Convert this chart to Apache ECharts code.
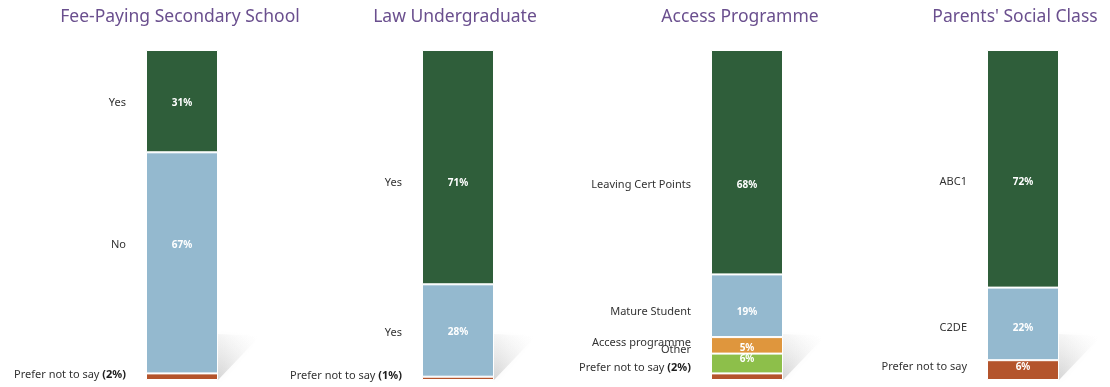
<!DOCTYPE html>
<html>
<head>
<meta charset="utf-8">
<title>Student background</title>
<script src="https://cdn.jsdelivr.net/npm/echarts@6/dist/echarts.min.js"></script>
<style>
  html, body { margin: 0; padding: 0; background: #ffffff; }
  #chart { width: 1110px; height: 387px; }
</style>
</head>
<body>
<div id="chart"></div>
<script>
// Panel titles
const panelTitles = ['Fee-Paying Secondary School', 'Law Undergraduate', 'Access Programme', "Parents' Social Class"];

// Segment names and shares (%), listed bottom to top
const feeNames = ['Prefer not to say', 'No', 'Yes'];
const feeValues = [2, 67, 31];

const lawNames = ['Prefer not to say', 'Yes', 'Yes'];
const lawValues = [1, 28, 71];

const accessNames = ['Prefer not to say', 'Other', 'Access programme', 'Mature Student', 'Leaving Cert Points'];
const accessValues = [2, 6, 5, 19, 68];

const classNames = ['Prefer not to say', 'C2DE', 'ABC1'];
const classValues = [6, 22, 72];

// ---- styling ----
const C_GREEN = '#2f5e3a';
const C_BLUE = '#94b9cf';
const C_BROWN = '#b4542c';
const C_ORANGE = '#df963d';
const C_LIME = '#8dbf4a';

const panels = [
  { names: feeNames, values: feeValues, colors: [C_BROWN, C_BLUE, C_GREEN],
    nameDy: [-2, -18, 2], valueDy: [0, -18, 2] },
  { names: lawNames, values: lawValues, colors: [C_BROWN, C_BLUE, C_GREEN],
    nameDy: [-2, 2, 16], valueDy: [0, 2, 16] },
  { names: accessNames, values: accessValues, colors: [C_BROWN, C_LIME, C_ORANGE, C_BLUE, C_GREEN],
    nameDy: [-9, -14, -2, 6, 23], valueDy: [0, -4, 3, 6, 23] },
  { names: classNames, values: classValues, colors: [C_BROWN, C_BLUE, C_GREEN],
    nameDy: [-3, 4, 13], valueDy: [-3, 4, 13] }
];

const barLeft = [146, 422, 711, 987];
const titleCenter = [180, 455, 740, 1015];
const BAR_W = 72, TOP = 50, HEIGHT = 330;
const FONT = '"Noto Sans", sans-serif';
const SMALL_SHARE = 3; // shares below this are written next to the name instead of inside the bar

const grids = [], xAxes = [], yAxes = [], series = [], titles = [];

panels.forEach((p, i) => {
  grids.push({ left: barLeft[i], width: BAR_W, top: TOP, height: HEIGHT });
  // axis 2i carries the coloured segments, axis 2i+1 the invisible name labels
  xAxes.push({ type: 'category', gridIndex: i, data: ['share'], show: false });
  xAxes.push({ type: 'category', gridIndex: i, data: ['share'], show: false });
  yAxes.push({ type: 'value', gridIndex: i, min: 0, max: 100, show: false });

  titles.push({
    text: panelTitles[i], left: titleCenter[i], top: 8, textAlign: 'center', padding: 0,
    textStyle: { color: '#6a4f8e', fontSize: 17.5, fontWeight: 'normal', fontFamily: FONT }
  });

  // soft shadow falling to the right of the bar foot
  series.push({
    type: 'custom', xAxisIndex: 2 * i, yAxisIndex: i, clip: false, silent: true, z: 0,
    data: [[0, 0]],
    renderItem: (params, api) => {
      const base = api.coord([0, 0]);
      const bw = api.size([1, 0])[0];
      const rx = base[0] + bw / 2, by = base[1];
      return {
        type: 'polygon',
        shape: { points: [[rx, by], [rx, by - 46], [rx + 42, by - 44]] },
        style: {
          fill: new echarts.graphic.LinearGradient(0, 1, 1, 0, [
            { offset: 0, color: 'rgba(130,130,130,0.32)' },
            { offset: 0.5, color: 'rgba(180,180,180,0.14)' },
            { offset: 1, color: 'rgba(255,255,255,0)' }
          ]),
          shadowBlur: 6,
          shadowColor: 'rgba(180,180,180,0.35)'
        }
      };
    }
  });

  p.values.forEach((v, k) => {
    const small = v < SMALL_SHARE;
    // coloured segment with its share inside
    series.push({
      type: 'bar', xAxisIndex: 2 * i, yAxisIndex: i, stack: 'seg' + i,
      barWidth: '100%', z: 2,
      data: [v],
      itemStyle: { color: p.colors[k], borderColor: '#ffffff', borderWidth: 1 },
      label: {
        show: !small, position: 'inside', offset: [0, p.valueDy[k]],
        formatter: '{c}%', color: '#ffffff', fontSize: 10, fontWeight: 'bold', fontFamily: FONT
      }
    });
    // transparent twin carrying the category name to the left
    series.push({
      type: 'bar', xAxisIndex: 2 * i + 1, yAxisIndex: i, stack: 'name' + i,
      barWidth: '100%', z: 1, silent: true,
      data: [v],
      itemStyle: { color: 'rgba(0,0,0,0)' },
      label: {
        show: true, position: 'left', distance: 20, offset: [0, p.nameDy[k]],
        formatter: small ? '{n|' + p.names[k] + '} {b|(' + v + '%)}' : p.names[k],
        color: '#333333', fontSize: 11, fontFamily: FONT,
        rich: {
          n: { color: '#333333', fontSize: 11, fontFamily: FONT },
          b: { color: '#1e1e1e', fontSize: 11, fontWeight: 'bold', fontFamily: FONT }
        }
      }
    });
  });
});

const chart = echarts.init(document.getElementById('chart'));
chart.setOption({
  animation: false,
  backgroundColor: '#ffffff',
  title: titles,
  grid: grids,
  xAxis: xAxes,
  yAxis: yAxes,
  series: series
});
</script>
</body>
</html>
